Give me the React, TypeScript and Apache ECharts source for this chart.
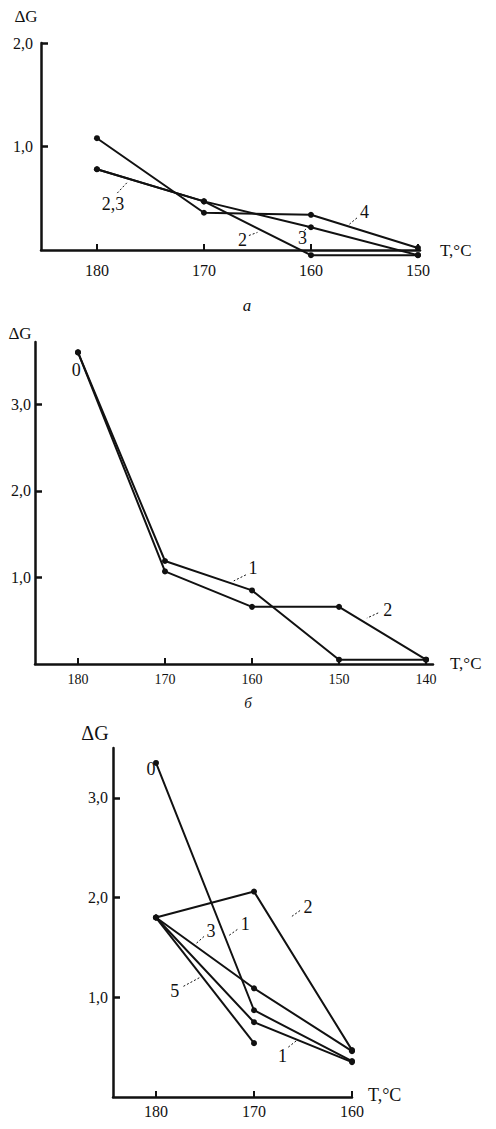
import React, { useEffect, useRef } from "react";
import * as echarts from "echarts";

// ---------- data ----------
// panel а
const tempsA = [180, 170, 160, 150];
const a2 = [0.78, 0.47, -0.05, -0.05];
const a3 = [0.78, 0.47, 0.22, -0.05];
const a4 = [1.08, 0.36, 0.34, 0.02];
const ticksXA = [180, 170, 160, 150];
const ticksYA = [1, 2];

// panel б
const tempsB = [180, 170, 160, 150, 140];
const b1 = [3.6, 1.19, 0.85, 0.05, 0.05];
const b2 = [3.6, 1.07, 0.66, 0.66, 0.05];
const ticksXB = [180, 170, 160, 150, 140];
const ticksYB = [1, 2, 3];

// panel в
const tempsC = [180, 170, 160];
const c1 = [3.35, 0.87, 0.36];
const c2 = [1.8, 2.06, 0.47];
const c3 = [1.8, 1.09, 0.46];
const c4 = [1.8, 0.75, 0.35];
const c5 = [1.8, 0.54];
const ticksXC = [180, 170, 160];
const ticksYC = [1, 2, 3];

// curve labels: [grid, text, [T, v] text centre, leader from, leader to]
type Lbl = { g: number; t: string; at: number[]; l?: number[][] };
const curveLabels: Lbl[] = [
  { g: 0, t: "2,3", at: [178.5, 0.44], l: [[178.1, 0.55], [177.2, 0.65]] },
  { g: 0, t: "2", at: [166.4, 0.1], l: [[165.8, 0.14], [165.0, 0.17]] },
  { g: 0, t: "3", at: [160.8, 0.12], l: [[160.6, 0.19], [160.1, 0.24]] },
  { g: 0, t: "4", at: [155.0, 0.37], l: [[155.7, 0.31], [156.4, 0.25]] },
  { g: 1, t: "0", at: [180.2, 3.4] },
  { g: 1, t: "1", at: [159.9, 1.11], l: [[160.7, 1.03], [162.1, 0.96]] },
  { g: 1, t: "2", at: [144.4, 0.62], l: [[145.5, 0.59], [146.8, 0.53]] },
  { g: 2, t: "0", at: [180.5, 3.29] },
  { g: 2, t: "3", at: [174.4, 1.66], l: [[175.1, 1.61], [175.9, 1.54]] },
  { g: 2, t: "1", at: [170.9, 1.73], l: [[171.7, 1.68], [172.7, 1.61]] },
  { g: 2, t: "2", at: [164.5, 1.91], l: [[165.3, 1.87], [166.3, 1.8]] },
  { g: 2, t: "5", at: [178.1, 1.06], l: [[177.2, 1.11], [175.5, 1.2]] },
  { g: 2, t: "1", at: [167.1, 0.41], l: [[166.5, 0.5], [165.6, 0.57]] },
];

const INK = "#111";
const FONT = "'Liberation Serif', 'DejaVu Serif', serif";

const fmt = (v: number) => v.toFixed(1).replace(".", ",");

function xAxis(gi: number, min: number, max: number, ticks: number[], margin: number, size: number) {
  return {
    type: "value",
    gridIndex: gi,
    inverse: true,
    min,
    max,
    axisLine: { show: true, onZero: false, lineStyle: { color: INK, width: 2.5 } },
    axisTick: { show: true, inside: true, length: 6, customValues: ticks, lineStyle: { color: INK, width: 2 } },
    axisLabel: {
      show: true,
      customValues: ticks,
      margin,
      color: INK,
      fontFamily: FONT,
      fontSize: size,
      formatter: (v: number) => String(v),
    },
    splitLine: { show: false },
  };
}

function yAxis(gi: number, max: number, ticks: number[], margin: number) {
  return {
    type: "value",
    gridIndex: gi,
    min: 0,
    max,
    axisLine: { show: true, lineStyle: { color: INK, width: 2.5 } },
    axisTick: { show: true, inside: true, length: 7, customValues: ticks, lineStyle: { color: INK, width: 2.5 } },
    axisLabel: {
      show: true,
      customValues: ticks,
      margin,
      color: INK,
      fontFamily: FONT,
      fontSize: 16,
      formatter: (v: number) => fmt(v),
    },
    splitLine: { show: false },
  };
}

function line(gi: number, temps: number[], vals: number[]) {
  return {
    type: "line",
    xAxisIndex: gi,
    yAxisIndex: gi,
    data: vals.map((v, i) => [temps[i], v]),
    symbol: "circle",
    symbolSize: 6,
    clip: false,
    silent: true,
    itemStyle: { color: INK },
    lineStyle: { color: INK, width: 2 },
  };
}

function txt(x: number, y: number, t: string, size = 16, extra: any = {}) {
  return {
    type: "text",
    x,
    y,
    style: {
      text: t,
      fill: INK,
      font: `${extra.italic ? "italic " : ""}${size}px ${FONT}`,
      textAlign: extra.align || "center",
      textVerticalAlign: "middle",
    },
    silent: true,
  };
}

export default function App() {
  const ref = useRef<HTMLDivElement>(null);
  useEffect(() => {
    if (!ref.current) return;
    const chart = echarts.init(ref.current, undefined, { renderer: "svg" });
    chart.setOption({
      animation: false,
      backgroundColor: "#fff",
      grid: [
        { left: 41, top: 43, width: 379, height: 207 },
        { left: 35, top: 342, width: 398, height: 322 },
        { left: 113, top: 748, width: 239, height: 349 },
      ],
      xAxis: [
        xAxis(0, 149.81, 185.23, ticksXA, 12, 16),
        xAxis(1, 139.2, 184.94, ticksXB, 8, 14),
        xAxis(2, 160, 184.39, ticksXC, 6, 16),
      ],
      yAxis: [yAxis(0, 2.0, ticksYA, 8), yAxis(1, 3.72, ticksYB, 4), yAxis(2, 3.5, ticksYC, 5)],
      series: [
        line(0, tempsA, a2),
        line(0, tempsA, a3),
        line(0, tempsA, a4),
        line(1, tempsB, b1),
        line(1, tempsB, b2),
        line(2, tempsC, c1),
        line(2, tempsC, c2),
        line(2, tempsC, c3),
        line(2, tempsC, c4),
        line(2, tempsC.slice(0, c5.length), c5),
      ],
    });

    const graphics: any[] = [
      txt(26, 16, "ΔG", 17),
      txt(440, 250, "T,°C", 17, { align: "left" }),
      txt(247, 305, "а", 17, { italic: true }),
      txt(20, 333, "ΔG", 17),
      txt(450, 663, "T,°C", 17, { align: "left" }),
      txt(248, 703, "б", 15, { italic: true }),
      txt(95, 733, "ΔG", 20),
      txt(368, 1095, "T,°C", 18, { align: "left" }),
    ];
    curveLabels.forEach((c) => {
      const p = chart.convertToPixel({ gridIndex: c.g } as any, c.at) as number[];
      graphics.push(txt(p[0], p[1], c.t, 18));
      if (c.l) {
        const a = chart.convertToPixel({ gridIndex: c.g } as any, c.l[0]) as number[];
        const b = chart.convertToPixel({ gridIndex: c.g } as any, c.l[1]) as number[];
        graphics.push({
          type: "line",
          shape: { x1: a[0], y1: a[1], x2: b[0], y2: b[1] },
          style: { stroke: INK, lineWidth: 1, lineDash: [2, 2] },
          silent: true,
        });
      }
    });
    chart.setOption({ graphic: graphics });
    return () => chart.dispose();
  }, []);
  return (
    <div
      ref={ref}
      style={{ position: "absolute", left: 0, top: 0, width: 496, height: 1129, background: "#fff" }}
    />
  );
}
